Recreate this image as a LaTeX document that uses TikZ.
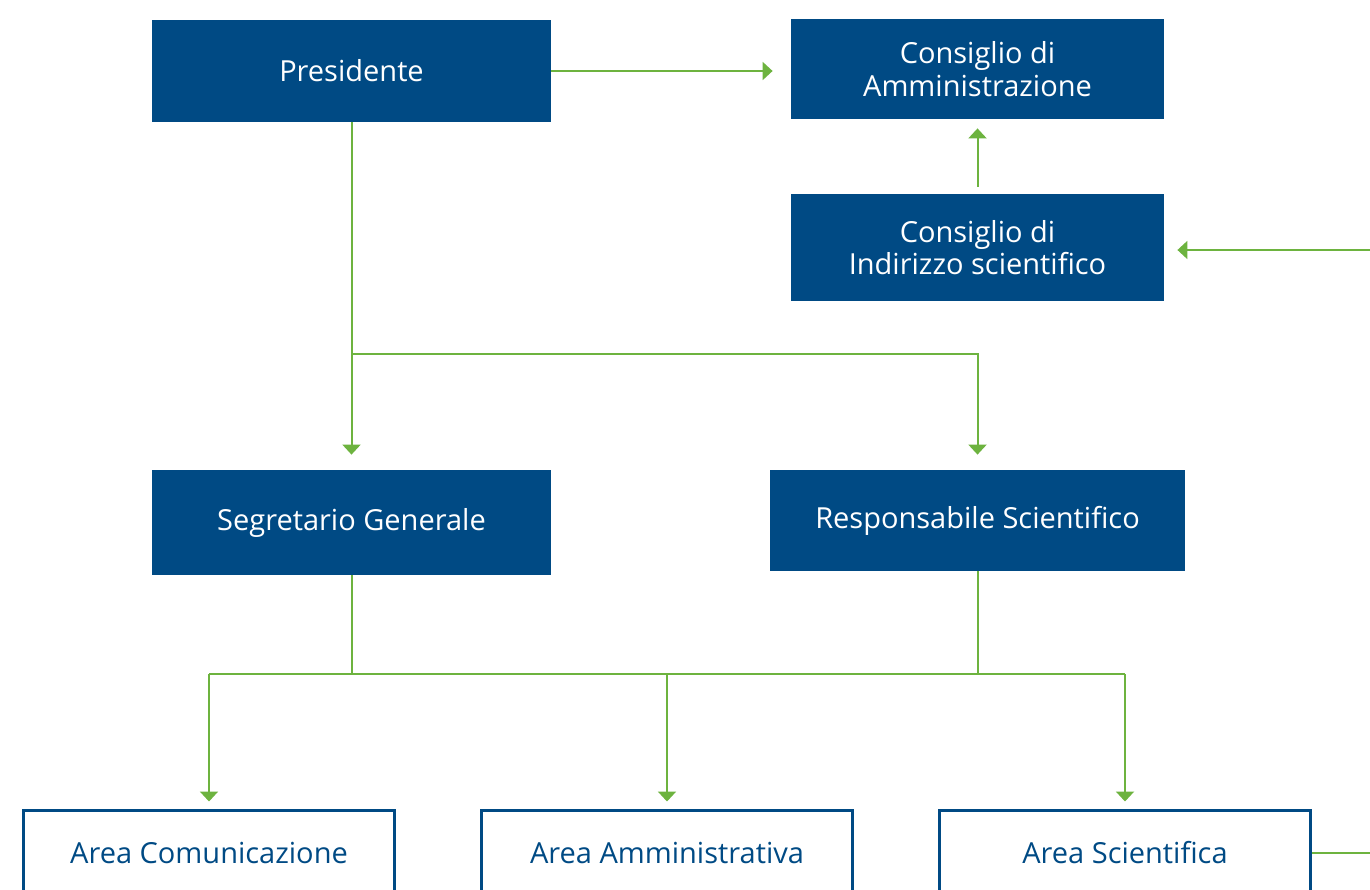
\documentclass[tikz,border=0pt]{standalone}
\usepackage{fontspec}
\setmainfont{Open Sans}
\usetikzlibrary{arrows.meta}
\definecolor{navy}{RGB}{0,74,132}
\definecolor{leaf}{RGB}{109,179,63}

\begin{document}
\begin{tikzpicture}
  [x=0.5pt,y=-0.5pt,font=\fontsize{14.5}{16.2}\selectfont,
   box/.style={fill=navy,text=white,align=center,inner sep=0pt},
   area/.style={draw=navy,line width=1.5pt,text=navy,inner sep=0pt,
     minimum width=185.5pt,minimum height=43pt},
   wire/.style={leaf,line width=1pt},
   link/.style={wire,-{Triangle[length=5pt,width=9pt]}}]
  \useasboundingbox (0,0) rectangle (1370,889);

  \node[box,minimum width=199.5pt,minimum height=51pt] (pres) at (351.5,71) {Presidente};
  \node[box,minimum width=186.5pt,minimum height=50pt] (cda) at (977.5,69) {Consiglio di\\Amministrazione};
  \node[box,minimum width=186.5pt,minimum height=53.5pt] (cis) at (977.5,247.5) {Consiglio di\\Indirizzo scientifico};
  \node[box,minimum width=199.5pt,minimum height=52.5pt] (seg) at (351.5,522.5) {Segretario Generale};
  \node[box,minimum width=207.5pt,minimum height=50.5pt] (resp) at (977.5,520.5) {Responsabile Scientifico};

  \node[area] (acom) at (209,853) {Area Comunicazione};
  \node[area] (aamm) at (667,853) {Area Amministrativa};
  \node[area] (asci) at (1125,853) {Area Scientifica};

  \coordinate (rin) at (1370,250);
  \coordinate (split) at (351.5,354);
  \coordinate (bl) at (209,674);
  \coordinate (br) at (1125,674);
  \coordinate (rout) at (1370,853);

  \draw[link,shorten >=9pt] (pres.east) -- (cda.west |- pres.east);
  \draw[link,shorten <=3.5pt,shorten >=4.5pt] (cis.north) -- (cda.south);
  \draw[link,shorten >=6.5pt] (rin) -- (cis.east |- rin);

  \draw[link,shorten >=7.5pt] (pres.south) -- (seg.north);
  \draw[link,shorten >=7.5pt] (split) -| (resp.north);

  \draw[wire] (seg.south) -- (seg.south |- bl);
  \draw[wire] (resp.south) -- (resp.south |- bl);
  \draw[wire] (bl) -- (br);
  \draw[link,shorten >=3.5pt] (bl) -- (acom.north);
  \draw[link,shorten >=3.5pt] (aamm.north |- bl) -- (aamm.north);
  \draw[link,shorten >=3.5pt] (br) -- (asci.north);
  \draw[wire] (asci.east) -- (rout);
\end{tikzpicture}
\end{document}
